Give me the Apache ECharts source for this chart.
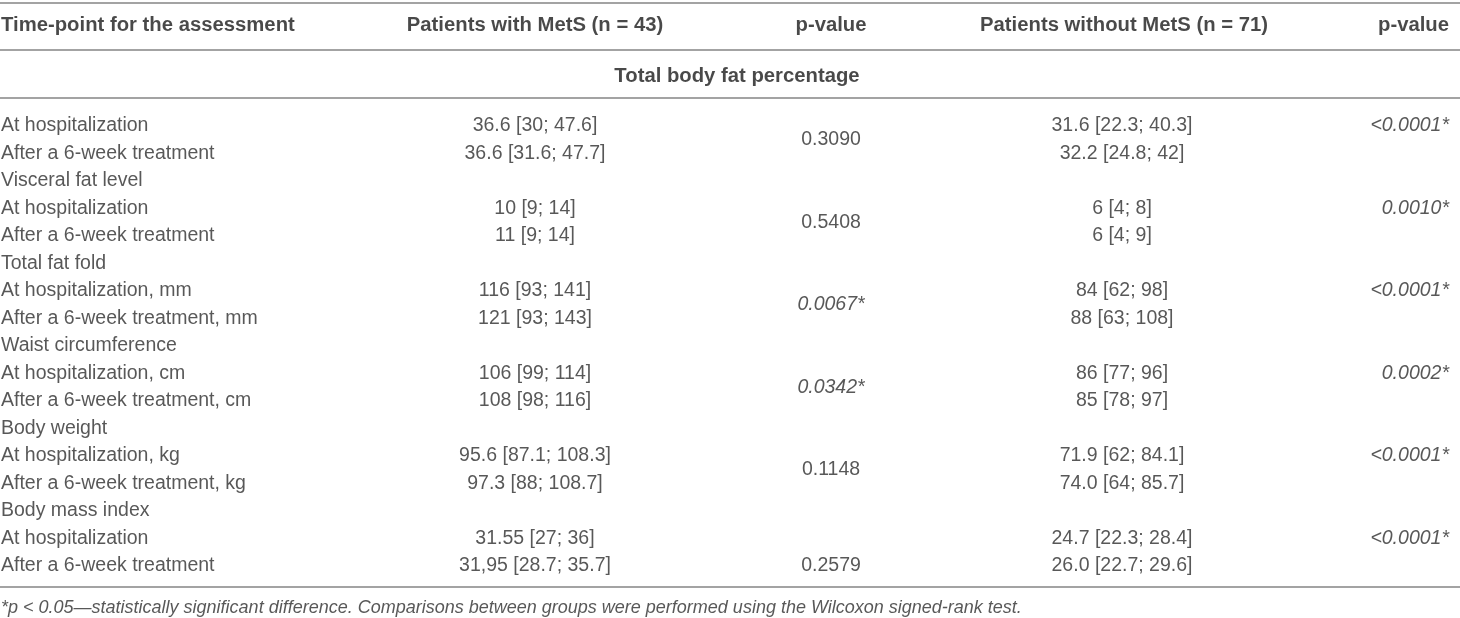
<!DOCTYPE html>
<html>
<head>
<meta charset="utf-8">
<script src="https://cdn.jsdelivr.net/npm/echarts@6/dist/echarts.min.js"></script>
<style>
  html, body { margin: 0; padding: 0; background: #fff; }
  #table { width: 1460px; height: 618px; }
</style>
</head>
<body>
<div id="table"></div>
<script>
// table content
const headers = ['Time-point for the assessment', 'Patients with MetS (n = 43)', 'p-value', 'Patients without MetS (n = 71)', 'p-value'];
const sectionTitle = 'Total body fat percentage';
const rowLabels = [
    'At hospitalization', 'After a 6-week treatment',
    'Visceral fat level', 'At hospitalization', 'After a 6-week treatment',
    'Total fat fold', 'At hospitalization, mm', 'After a 6-week treatment, mm',
    'Waist circumference', 'At hospitalization, cm', 'After a 6-week treatment, cm',
    'Body weight', 'At hospitalization, kg', 'After a 6-week treatment, kg',
    'Body mass index', 'At hospitalization', 'After a 6-week treatment'
];
const withMetS = [
    '36.6 [30; 47.6]', '36.6 [31.6; 47.7]',
    '', '10 [9; 14]', '11 [9; 14]',
    '', '116 [93; 141]', '121 [93; 143]',
    '', '106 [99; 114]', '108 [98; 116]',
    '', '95.6 [87.1; 108.3]', '97.3 [88; 108.7]',
    '', '31.55 [27; 36]', '31,95 [28.7; 35.7]'
];
const withoutMetS = [
    '31.6 [22.3; 40.3]', '32.2 [24.8; 42]',
    '', '6 [4; 8]', '6 [4; 9]',
    '', '84 [62; 98]', '88 [63; 108]',
    '', '86 [77; 96]', '85 [78; 97]',
    '', '71.9 [62; 84.1]', '74.0 [64; 85.7]',
    '', '24.7 [22.3; 28.4]', '26.0 [22.7; 29.6]'
];
// [row index, text]
const pWith = [[0.5, '0.3090'], [3.5, '0.5408'], [6.5, '0.0067*'], [9.5, '0.0342*'], [12.5, '0.1148'], [16, '0.2579']];
const pWithout = [[0, '<0.0001*'], [3, '0.0010*'], [6, '<0.0001*'], [9, '0.0002*'], [12, '<0.0001*'], [15, '<0.0001*']];
const footnote = '*p < 0.05\u2014statistically significant difference. Comparisons between groups were performed using the Wilcoxon signed-rank test.';

// layout (x anchors in px, y in row units)
const colX = [1, 535, 831, 1122, 1449];
const colAlign = ['left', 'center', 'center', 'center', 'right'];
const headerX = [1, 535, 831, 1124, 1449];
const headerRow = -3.64;
const titleRow = -1.82;
const titleX = 737;
const footRow = 17.53;
const ruleRows = [-4.47, -2.76, -1.02, 16.76];

const FONT = '"Liberation Sans", Arial, Helvetica, sans-serif';

function textSeries(items, align, style) {
    return {
        type: 'scatter',
        symbolSize: 0,
        clip: false,
        silent: true,
        data: items.map(it => {
            const d = { value: [it[0], it[1]], name: it[2] };
            if (it[2].indexOf('*') >= 0 && style.italicStar) {
                d.label = { fontStyle: 'italic' };
            }
            return d;
        }),
        label: {
            show: true,
            position: [0, 0],
            align: align,
            verticalAlign: 'middle',
            formatter: '{b}',
            fontFamily: FONT,
            fontSize: style.size || 19.5,
            fontWeight: style.bold ? 'bold' : 'normal',
            fontStyle: style.italic ? 'italic' : 'normal',
            color: style.color || '#2e2e2e'
        }
    };
}

const chart = echarts.init(document.getElementById('table'));

const series = [];
// header row
headers.forEach((h, i) => {
    series.push(textSeries([[headerX[i], headerRow, h]], colAlign[i], { bold: true, size: 20.3, color: '#1c1c1c' }));
});
series[0].markLine = {
    silent: true,
    symbol: 'none',
    label: { show: false },
    lineStyle: { color: '#a3a3a3', width: 2, type: 'solid' },
    data: ruleRows.map(r => ({ yAxis: r }))
};
series.push(textSeries([[titleX, titleRow, sectionTitle]], 'center', { bold: true, size: 20.3, color: '#1c1c1c' }));

// body columns
series.push(textSeries(rowLabels.map((t, i) => [colX[0], i, t]), 'left', {}));
series.push(textSeries(withMetS.map((t, i) => [colX[1], i, t]).filter(d => d[2]), 'center', {}));
series.push(textSeries(pWith.map(p => [colX[2], p[0], p[1]]), 'center', { italicStar: true }));
series.push(textSeries(withoutMetS.map((t, i) => [colX[3], i, t]).filter(d => d[2]), 'center', {}));
series.push(textSeries(pWithout.map(p => [colX[4], p[0], p[1]]), 'right', { italicStar: true }));

// footnote
series.push(textSeries([[1, footRow, footnote]], 'left', { italic: true, size: 18, color: '#2e2e2e' }));

chart.setOption({
    animation: false,
    grid: { left: 0, right: 0, top: 2.25, bottom: 8 },
    xAxis: { type: 'value', min: 0, max: 1460, show: false },
    yAxis: { type: 'value', inverse: true, min: -4.5, max: 17.6, show: false },
    series: series
});
</script>
</body>
</html>
